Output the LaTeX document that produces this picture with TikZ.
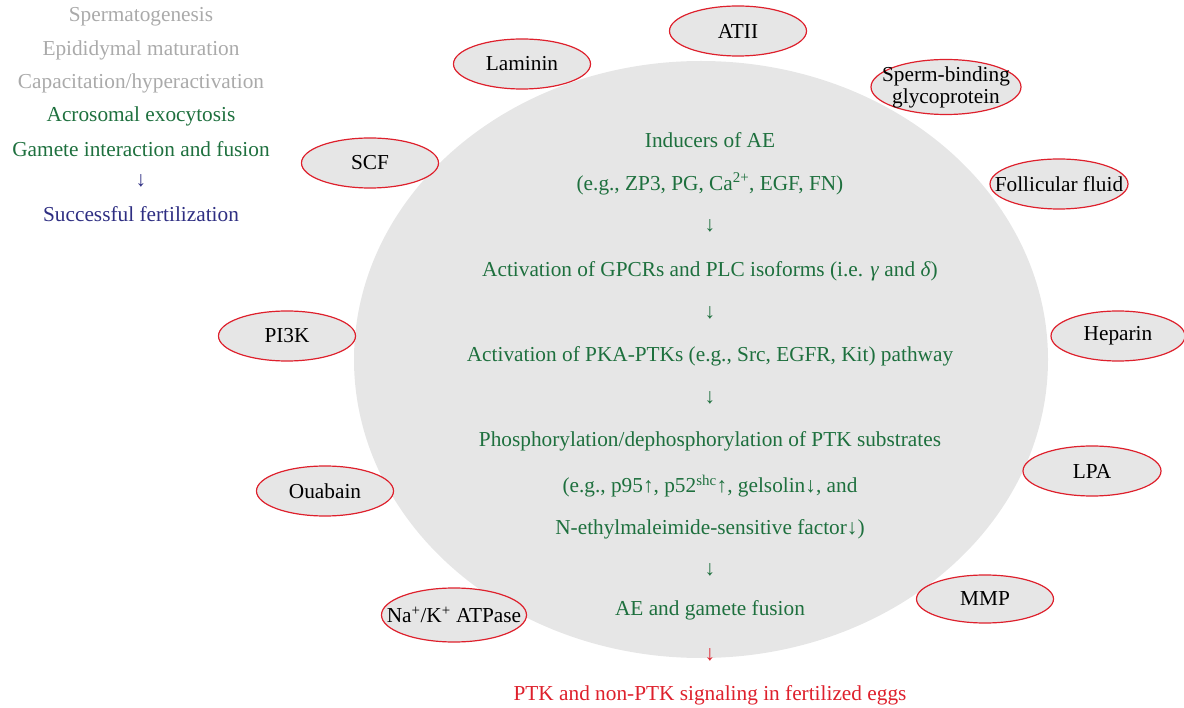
\documentclass[tikz,border=0pt]{standalone}
\usepackage{fontspec}
\setmainfont{Liberation Serif}
\usetikzlibrary{shapes.geometric}
\definecolor{aegreen}{RGB}{30,112,62}
\definecolor{aegray}{RGB}{230,230,230}
\definecolor{aered}{RGB}{222,32,44}
\definecolor{aeblue}{RGB}{46,46,130}
\definecolor{aelight}{RGB}{170,170,170}
\newcommand\aefont{\fontsize{21.3}{24}\selectfont}

\begin{document}
\begin{tikzpicture}[x=1pt,y=-1pt,
  every node/.style={font=\aefont, inner sep=0pt},
  cell/.style={ellipse, fill=aegray, minimum width=694pt, minimum height=597pt},
  factor/.style={ellipse, draw=aered, fill=aegray, line width=1.2pt,
    inner xsep=-20pt, inner ysep=-6pt,
    minimum width=137pt, minimum height=50pt, text=black, align=center},
  pathway/.style={text=aegreen},
  earlystage/.style={text=aelight},
  outcome/.style={text=aeblue},
  eggsignal/.style={text=aered}]
\useasboundingbox (0,0) rectangle (1184,708);
% Drawing the sperm cell
\node[cell] (cell) at (701,359.5) {};
% Sperm stages on the left
\node[earlystage] (spermatogenesis) at (141,17) {Spermatogenesis};
\node[earlystage] (maturation) at (141,50) {Epididymal maturation};
\node[earlystage] (capacitation) at (141,83) {Capacitation/hyperactivation};
\node[pathway] (exocytosis) at (141,116) {Acrosomal exocytosis};
\node[pathway] (interaction) at (141,149) {Gamete interaction and fusion};
\node[outcome] (stagearrow) at (141,181) {↓};
\node[outcome] (fertilization) at (141,214) {Successful fertilization};
% Signaling cascade inside the cell
\node[pathway] (inducers) at (710,140) {Inducers of AE};
\node[pathway] (inducerlist) at (710,184) {(e.g., ZP3, PG, Ca\textsuperscript{2+}, EGF, FN)};
\node[pathway] (arrowa) at (710,226) {↓};
\node[pathway] (gpcr) at (710,271) {Activation of GPCRs and PLC isoforms (i.e. \textit{γ} and \textit{δ})};
\node[pathway] (arrowb) at (710,313) {↓};
\node[pathway] (pka) at (710,356) {Activation of PKA-PTKs (e.g., Src, EGFR, Kit) pathway};
\node[pathway] (arrowc) at (710,398) {↓};
\node[pathway] (phospho) at (710,441) {Phosphorylation/dephosphorylation of PTK substrates};
\node[pathway] (substrates) at (710,486) {(e.g., p95↑, p52\textsuperscript{shc}↑, gelsolin↓, and};
\node[pathway] (nsf) at (710,529) {N-ethylmaleimide-sensitive factor↓)};
\node[pathway] (arrowd) at (710,570) {↓};
\node[pathway] (fusion) at (710,610) {AE and gamete fusion};
\node[eggsignal] (arrowe) at (710,655) {↓};
\node[eggsignal] (eggs) at (710,695) {PTK and non-PTK signaling in fertilized eggs};
% Factors around the cell
\node[factor] (laminin) at (522,64) {Laminin};
\node[factor] (atii) at (738,31) {ATII};
\node[factor, minimum width=150pt, minimum height=55pt] (glyco) at (946,87) {Sperm-binding\\[-2pt]glycoprotein};
\node[factor, minimum width=138pt] (follicular) at (1059,184) {Follicular fluid};
\node[factor, minimum width=134pt] (heparin) at (1118,336) {Heparin};
\node[factor, minimum width=138pt] (lpa) at (1092,471) {LPA};
\node[factor, minimum width=137pt, minimum height=48pt] (mmp) at (985,599) {MMP};
\node[factor] (scf) at (370,163) {SCF};
\node[factor] (pithreek) at (287,336) {PI3K};
\node[factor] (ouabain) at (325,491) {Ouabain};
\node[factor, minimum width=145pt, minimum height=54pt] (atpase) at (454,615) {Na\textsuperscript{+}/K\textsuperscript{+} ATPase};
\end{tikzpicture}
\end{document}
